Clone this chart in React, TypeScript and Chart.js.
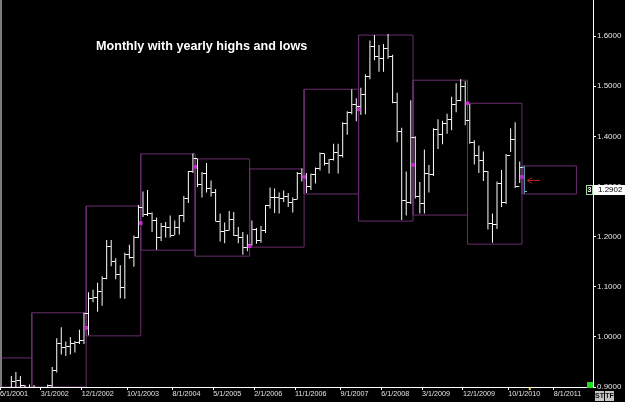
import React, { useEffect, useRef } from 'react';
import { Chart, registerables } from 'chart.js';

Chart.register(...registerables);

// First bar: June 2001 (monthly bars, last one January 2011)
const startYear = 2001;
const startMonth = 6;

const barOpen = [
  0.8480, 0.8490, 0.8770, 0.9110, 0.9120, 0.9020, 0.8900,
  0.8900, 0.8610, 0.8700, 0.8720, 0.9020, 0.9330, 0.9870, 0.9780, 0.9810, 0.9870, 0.9880, 0.9930,
  1.0470, 1.0770, 1.0780, 1.0910, 1.1170, 1.1800, 1.1500, 1.1240, 1.0980, 1.1640, 1.1590, 1.1990,
  1.2590, 1.2450, 1.2470, 1.2320, 1.1980, 1.2200, 1.2180, 1.2020, 1.2180, 1.2420, 1.2760, 1.3290,
  1.3550, 1.3040, 1.3260, 1.2960, 1.2870, 1.2300, 1.2100, 1.2120, 1.2340, 1.2020, 1.1990, 1.1790,
  1.1840, 1.2150, 1.1920, 1.2120, 1.2620, 1.2790, 1.2790, 1.2760, 1.2810, 1.2680, 1.2750, 1.3250,
  1.3200, 1.3000, 1.3230, 1.3350, 1.3650, 1.3450, 1.3530, 1.3680, 1.3620, 1.4260, 1.4480, 1.4630,
  1.4590, 1.4840, 1.5190, 1.5790, 1.5600, 1.5550, 1.5750, 1.5600, 1.4670, 1.4100, 1.2730, 1.2690,
  1.3970, 1.2800, 1.2670, 1.3250, 1.3230, 1.4140, 1.4040, 1.4250, 1.4330, 1.4640, 1.4720, 1.5000,
  1.4320, 1.3870, 1.3620, 1.3510, 1.3290, 1.2270, 1.2240, 1.3050, 1.2690, 1.3620, 1.3930, 1.2990,
  1.3380,
];
const barHigh = [
  0.8690, 0.8800, 0.9220, 0.9300, 0.9220, 0.9040, 0.9050,
  0.9040, 0.8780, 0.8840, 0.9050, 0.9400, 0.9970, 1.0190, 0.9910, 0.9990, 0.9920, 1.0140, 1.0480,
  1.0890, 1.0940, 1.1080, 1.1210, 1.1930, 1.1930, 1.1570, 1.1430, 1.1680, 1.1840, 1.2020, 1.2630,
  1.2900, 1.2930, 1.2480, 1.2380, 1.2270, 1.2290, 1.2420, 1.2320, 1.2430, 1.2810, 1.3310, 1.3660,
  1.3560, 1.3290, 1.3470, 1.3120, 1.2950, 1.2460, 1.2280, 1.2510, 1.2490, 1.2190, 1.2090, 1.2040,
  1.2320, 1.2170, 1.2210, 1.2630, 1.2980, 1.2960, 1.2880, 1.2920, 1.2870, 1.2780, 1.3290, 1.3360,
  1.3270, 1.3260, 1.3380, 1.3680, 1.3660, 1.3550, 1.3850, 1.3850, 1.4280, 1.4500, 1.4940, 1.4760,
  1.4970, 1.5240, 1.5910, 1.6020, 1.5820, 1.5840, 1.6040, 1.5630, 1.4870, 1.4170, 1.3300, 1.4720,
  1.4000, 1.3090, 1.3740, 1.3430, 1.4160, 1.4340, 1.4310, 1.4450, 1.4790, 1.5060, 1.5140, 1.5100,
  1.4650, 1.3920, 1.3820, 1.3700, 1.3310, 1.2460, 1.3100, 1.3330, 1.3650, 1.4160, 1.4280, 1.3500,
  1.3410,
];
const barLow = [
  0.8405, 0.8415, 0.8760, 0.8990, 0.8930, 0.8750, 0.8760,
  0.8580, 0.8560, 0.8600, 0.8700, 0.8980, 0.9290, 0.9650, 0.9620, 0.9650, 0.9690, 0.9860, 0.9860,
  1.0030, 1.0690, 1.0500, 1.0620, 1.1150, 1.1410, 1.1150, 1.0770, 1.0760, 1.1560, 1.1400, 1.1970,
  1.2390, 1.2410, 1.2090, 1.1740, 1.1910, 1.1980, 1.1980, 1.2030, 1.2040, 1.2290, 1.2670, 1.3270,
  1.2990, 1.2780, 1.2880, 1.2800, 1.2300, 1.1900, 1.1870, 1.2120, 1.2010, 1.1870, 1.1640, 1.1710,
  1.1820, 1.1860, 1.1880, 1.2070, 1.2560, 1.2470, 1.2460, 1.2690, 1.2590, 1.2480, 1.2740, 1.3100,
  1.2870, 1.2930, 1.3060, 1.3320, 1.3420, 1.3260, 1.3520, 1.3260, 1.3580, 1.4030, 1.4440, 1.4300,
  1.4430, 1.4440, 1.5140, 1.5520, 1.5290, 1.5290, 1.5550, 1.4660, 1.3880, 1.2330, 1.2420, 1.2650,
  1.2760, 1.2460, 1.2460, 1.2880, 1.3210, 1.3750, 1.3840, 1.4050, 1.4120, 1.4480, 1.4700, 1.4220,
  1.3850, 1.3440, 1.3270, 1.3110, 1.2140, 1.1880, 1.2150, 1.2590, 1.2650, 1.3690, 1.2970, 1.3070,
  1.2860,
];
const barClose = [
  0.8490, 0.8770, 0.9110, 0.9120, 0.9020, 0.8900, 0.8900,
  0.8610, 0.8700, 0.8720, 0.9020, 0.9330, 0.9870, 0.9780, 0.9810, 0.9870, 0.9880, 0.9930, 1.0470,
  1.0770, 1.0780, 1.0910, 1.1170, 1.1800, 1.1500, 1.1240, 1.0980, 1.1640, 1.1590, 1.1990, 1.2590,
  1.2450, 1.2470, 1.2320, 1.1980, 1.2200, 1.2180, 1.2020, 1.2180, 1.2420, 1.2760, 1.3290, 1.3560,
  1.3040, 1.3260, 1.2960, 1.2870, 1.2300, 1.2100, 1.2120, 1.2340, 1.2020, 1.1990, 1.1790, 1.1840,
  1.2150, 1.1920, 1.2120, 1.2620, 1.2790, 1.2790, 1.2760, 1.2810, 1.2680, 1.2750, 1.3250, 1.3200,
  1.3000, 1.3230, 1.3350, 1.3650, 1.3450, 1.3530, 1.3680, 1.3620, 1.4260, 1.4480, 1.4630, 1.4590,
  1.4840, 1.5190, 1.5790, 1.5600, 1.5550, 1.5750, 1.5600, 1.4670, 1.4100, 1.2730, 1.2690, 1.3970,
  1.2800, 1.2670, 1.3250, 1.3230, 1.4140, 1.4040, 1.4250, 1.4330, 1.4640, 1.4720, 1.5000, 1.4320,
  1.3870, 1.3620, 1.3510, 1.3290, 1.2270, 1.2240, 1.3050, 1.2690, 1.3620, 1.3930, 1.2990, 1.3380,
  1.2902,
];

// Yearly high / low boxes
const boxYears = [2001, 2002, 2003, 2004, 2005, 2006, 2007, 2008, 2009, 2010, 2011];
const boxHigh = [0.958, 1.048, 1.261, 1.365, 1.355, 1.335, 1.494, 1.602, 1.512, 1.466, 1.341];
const boxLow = [0.835, 0.857, 1.002, 1.173, 1.161, 1.179, 1.285, 1.231, 1.243, 1.185, 1.285];

// Year-start markers
const markerYears = [2003, 2004, 2005, 2006, 2007, 2008, 2009, 2010, 2011];
const markerValues = [1.018, 1.227, 1.339, 1.181, 1.319, 1.454, 1.343, 1.466, 1.319];

const xTickLabels = [
  '6/1/2001', '3/1/2002', '12/1/2002', '10/1/2003', '8/1/2004', '5/1/2005', '2/1/2006',
  '11/1/2006', '9/1/2007', '6/1/2008', '3/1/2009', '12/1/2009', '10/1/2010', '8/1/2011',
];
const yTickValues = [0.9, 1.0, 1.1, 1.2, 1.3, 1.4, 1.5, 1.6];
const yMin = 0.9;
const yMax = 1.672;
const xMaxMonths = 130.65;

const chartTitle = 'Monthly with yearly highs and lows';
const lastPrice = 1.2902;

const monthIndex = (year: number, month: number) => (year - startYear) * 12 + (month - startMonth);
const labelToIndex = (label: string) => {
  const [m, , y] = label.split('/').map(Number);
  return monthIndex(y, m);
};

const FONT = '"Liberation Sans", Arial, sans-serif';

export default function App() {
  const ref = useRef<HTMLCanvasElement>(null);

  useEffect(() => {
    const canvas = ref.current;
    if (!canvas) return;

    const mkTick = (left: boolean, color: string) => {
      const c = document.createElement('canvas');
      c.width = 5;
      c.height = 1;
      const g = c.getContext('2d')!;
      g.fillStyle = color;
      g.fillRect(left ? 0 : 3, 0, 2, 1);
      return c;
    };
    const white = '#ffffff';
    const cyan = '#74c8de';
    const lastIdx = barClose.length - 1;
    const openW = mkTick(true, white);
    const closeW = mkTick(false, white);
    const openC = mkTick(true, cyan);
    const closeC = mkTick(false, cyan);

    const barData = barHigh.map((h, i) => ({ x: i + 0.5, y: [barLow[i], h] }));
    const openData = barOpen.map((v, i) => ({ x: i + 0.5, y: v }));
    const closeData = barClose.map((v, i) => ({ x: i + 0.5, y: v }));

    const boxPts: any[] = [];
    boxYears.forEach((yr, i) => {
      const t0 = monthIndex(yr, 1);
      const t1 = monthIndex(yr + 1, 1);
      const lo = Math.max(boxLow[i], yMin);
      const hi = boxHigh[i];
      boxPts.push(
        { x: t0, y: lo }, { x: t1, y: lo }, { x: t1, y: hi }, { x: t0, y: hi }, { x: t0, y: lo },
        { x: t0, y: null },
      );
    });
    const markerData = markerYears.map((yr, i) => ({ x: monthIndex(yr, 1), y: markerValues[i] }));

    const decor = {
      id: 'decor',
      afterDatasetsDraw(chart: any) {
        const { ctx, chartArea: a, scales } = chart;
        const xs = scales.x;
        const ys = scales.y;
        ctx.save();
        ctx.fillStyle = '#7c7c7c';
        ctx.fillRect(a.left, a.top, 2, a.bottom - a.top);
        ctx.fillStyle = '#ffffff';
        ctx.font = `bold 12.6px ${FONT}`;
        ctx.textBaseline = 'alphabetic';
        ctx.textAlign = 'left';
        ctx.fillText(chartTitle, a.left + 96, a.top + 50);
        // arrow pointing at the current bar
        const bx = xs.getPixelForValue(lastIdx + 0.5);
        const by = Math.round(ys.getPixelForValue((barHigh[lastIdx] + barLow[lastIdx]) / 2)) + 0.5;
        ctx.strokeStyle = '#b32222';
        ctx.lineWidth = 1;
        ctx.beginPath();
        ctx.moveTo(bx + 3, by);
        ctx.lineTo(bx + 16, by);
        ctx.moveTo(bx + 8, by - 3);
        ctx.lineTo(bx + 3, by);
        ctx.lineTo(bx + 8, by + 3);
        ctx.stroke();
        ctx.restore();
      },
      afterDraw(chart: any) {
        const { ctx, chartArea: a, scales } = chart;
        const xs = scales.x;
        const ys = scales.y;
        ctx.save();
        const py = ys.getPixelForValue(lastPrice);
        ctx.fillStyle = '#ffffff';
        ctx.fillRect(a.right + 1, Math.round(py) - 6, 32, 10);
        ctx.fillStyle = '#000000';
        ctx.font = `8px ${FONT}`;
        ctx.textBaseline = 'middle';
        ctx.textAlign = 'left';
        ctx.fillText(lastPrice.toFixed(4), a.right + 5, Math.round(py) - 1);
        // small marker box left of the price label
        ctx.fillStyle = '#000000';
        ctx.fillRect(a.right - 7, Math.round(py) - 6, 6, 9);
        ctx.strokeStyle = '#a8d8a8';
        ctx.strokeRect(a.right - 6.5, Math.round(py) - 5.5, 6, 9);
        ctx.fillStyle = '#ffffff';
        ctx.font = `bold 7px ${FONT}`;
        ctx.fillText('3', a.right - 5.5, Math.round(py) - 1);
        // green square in the corner
        ctx.fillStyle = '#22dd22';
        ctx.fillRect(a.right - 6, a.bottom - 5, 6, 6);
        // yellow time marker
        ctx.fillStyle = '#f0e060';
        ctx.fillRect(xs.getPixelForValue(lastIdx + 1.5), a.bottom, 2, 3);
        // ST / TF buttons
        ctx.font = `bold 7px ${FONT}`;
        ctx.textBaseline = 'middle';
        ctx.textAlign = 'center';
        [['ST', 595], ['TF', 605]].forEach(([t, x]) => {
          ctx.fillStyle = '#c4c4c4';
          ctx.fillRect(x as number, a.bottom + 4, 9, 10);
          ctx.fillStyle = '#111111';
          ctx.fillText(t as string, (x as number) + 4.5, a.bottom + 9);
        });
        ctx.restore();
      },
    };

    const chart = new Chart(canvas, {
      type: 'line',
      data: {
        datasets: [
          {
            type: 'line',
            data: markerData,
            showLine: false,
            pointStyle: 'rect',
            pointRadius: 2.6,
            pointHoverRadius: 0,
            pointBackgroundColor: '#c02ccc',
            pointBorderWidth: 0,
            order: 0,
          } as any,
          {
            type: 'line',
            data: openData,
            showLine: false,
            pointStyle: openData.map((_, i) => (i === lastIdx ? openC : openW)),
            pointRadius: 2,
            pointHoverRadius: 0,
            order: 1,
          } as any,
          {
            type: 'line',
            data: closeData,
            showLine: false,
            pointStyle: closeData.map((_, i) => (i === lastIdx ? closeC : closeW)),
            pointRadius: 2,
            pointHoverRadius: 0,
            order: 1,
          } as any,
          {
            type: 'bar',
            data: barData,
            backgroundColor: barData.map((_, i) => (i === lastIdx ? cyan : white)),
            borderWidth: 0,
            barThickness: 1,
            inflateAmount: 0,
            order: 2,
          } as any,
          {
            type: 'line',
            data: boxPts,
            borderColor: '#6a2e6e',
            borderWidth: 1,
            pointRadius: 0,
            pointHoverRadius: 0,
            tension: 0,
            fill: false,
            spanGaps: false,
            order: 3,
          } as any,
        ],
      },
      options: {
        responsive: false,
        devicePixelRatio: 1,
        animation: false,
        events: [],
        layout: { padding: 0, autoPadding: false },
        plugins: {
          legend: { display: false },
          tooltip: { enabled: false },
          title: { display: false },
        },
        scales: {
          x: {
            type: 'linear',
            position: 'bottom',
            min: 0,
            max: xMaxMonths,
            offset: false,
            grid: {
              display: true,
              drawOnChartArea: false,
              drawTicks: true,
              tickLength: 3,
              color: '#ffffff',
              offset: false,
            },
            border: { display: true, color: '#ffffff', width: 1 },
            ticks: {
              align: 'start',
              autoSkip: false,
              maxRotation: 0,
              minRotation: 0,
              padding: 0,
              color: '#e4e4e4',
              font: { family: FONT, size: 7.2 },
              callback: (_v: any, i: number) => xTickLabels[i],
            },
            afterBuildTicks: (scale: any) => {
              scale.ticks = xTickLabels.map((l) => ({ value: labelToIndex(l) }));
            },
            afterFit: (scale: any) => {
              scale.height = 15;
              scale.paddingLeft = 0;
              scale.paddingRight = 0;
            },
          } as any,
          y: {
            type: 'linear',
            position: 'right',
            min: yMin,
            max: yMax,
            beginAtZero: false,
            grid: {
              display: true,
              drawOnChartArea: false,
              drawTicks: true,
              tickLength: 3,
              color: '#ffffff',
            },
            border: { display: true, color: '#ffffff', width: 1 },
            ticks: {
              padding: 1,
              color: '#e4e4e4',
              font: { family: FONT, size: 8 },
              callback: (v: any) => Number(v).toFixed(4),
            },
            afterBuildTicks: (scale: any) => {
              scale.ticks = yTickValues.map((v) => ({ value: v }));
            },
            afterFit: (scale: any) => {
              scale.width = 32;
              scale.paddingTop = 0;
              scale.paddingBottom = 0;
            },
          } as any,
        },
      },
      plugins: [decor],
    } as any);

    return () => chart.destroy();
  }, []);

  return (
    <div style={{ position: 'fixed', left: 0, top: 0, width: 625, height: 402, background: '#000000' }}>
      <canvas ref={ref} width={625} height={402} style={{ display: 'block', width: 625, height: 402 }} />
    </div>
  );
}
